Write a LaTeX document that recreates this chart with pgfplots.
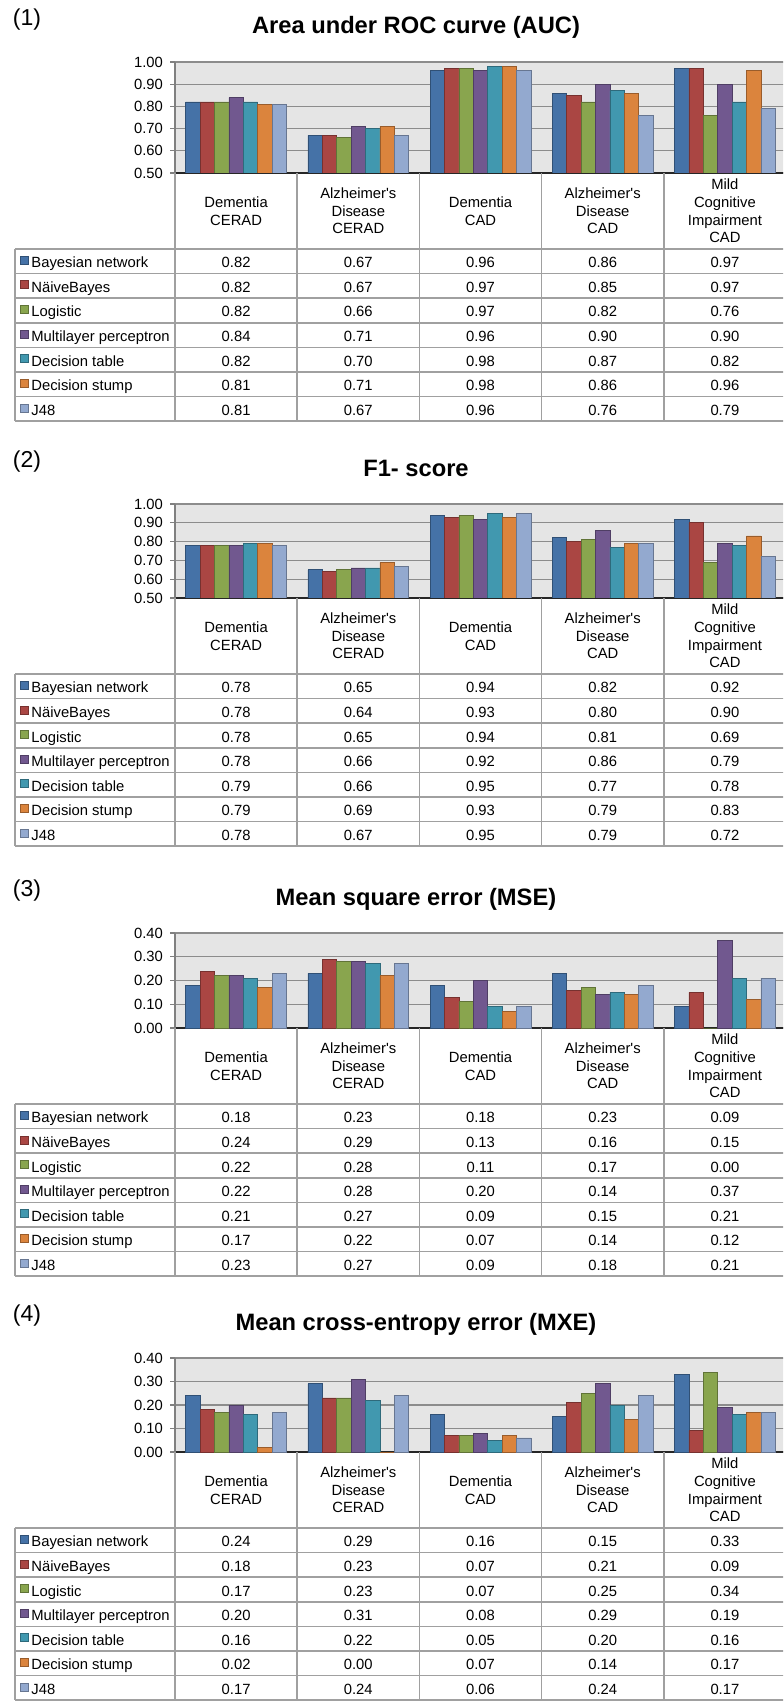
\documentclass[border=0pt]{standalone}
\usepackage{fontspec}
\setmainfont{Liberation Sans}
\usepackage{pgfplots}
\usepackage{pgfplotstable}
\pgfplotsset{compat=1.18}
\definecolor{c1}{HTML}{4572A7}
\definecolor{c2}{HTML}{AA4643}
\definecolor{c3}{HTML}{89A54E}
\definecolor{c4}{HTML}{71588F}
\definecolor{c5}{HTML}{4198AF}
\definecolor{c6}{HTML}{DB843D}
\definecolor{c7}{HTML}{93A9CF}
\definecolor{gridc}{HTML}{8C8C8C}
\definecolor{tabc}{HTML}{A0A0A0}
\pgfkeys{/pgf/number format/.cd,fixed,fixed zerofill,precision=2,assume math mode=true}
\newcommand{\tabfont}{\fontsize{7.4}{8.8}\selectfont}

\pgfplotstableread{
cat bn nb lo mlp dt ds j48
1 0.82 0.82 0.82 0.84 0.82 0.81 0.81
2 0.67 0.67 0.66 0.71 0.70 0.71 0.67
3 0.96 0.97 0.97 0.96 0.98 0.98 0.96
4 0.86 0.85 0.82 0.90 0.87 0.86 0.76
5 0.97 0.97 0.76 0.90 0.82 0.96 0.79
}\aucdata
\pgfplotstableread{
cat bn nb lo mlp dt ds j48
1 0.78 0.78 0.78 0.78 0.79 0.79 0.78
2 0.65 0.64 0.65 0.66 0.66 0.69 0.67
3 0.94 0.93 0.94 0.92 0.95 0.93 0.95
4 0.82 0.80 0.81 0.86 0.77 0.79 0.79
5 0.92 0.90 0.69 0.79 0.78 0.83 0.72
}\fonedata
\pgfplotstableread{
cat bn nb lo mlp dt ds j48
1 0.18 0.24 0.22 0.22 0.21 0.17 0.23
2 0.23 0.29 0.28 0.28 0.27 0.22 0.27
3 0.18 0.13 0.11 0.20 0.09 0.07 0.09
4 0.23 0.16 0.17 0.14 0.15 0.14 0.18
5 0.09 0.15 0.00 0.37 0.21 0.12 0.21
}\msedata
\pgfplotstableread{
cat bn nb lo mlp dt ds j48
1 0.24 0.18 0.17 0.20 0.16 0.02 0.17
2 0.29 0.23 0.23 0.31 0.22 0.00 0.24
3 0.16 0.07 0.07 0.08 0.05 0.07 0.06
4 0.15 0.21 0.25 0.29 0.20 0.14 0.24
5 0.33 0.09 0.34 0.19 0.16 0.17 0.17
}\mxedata

\pgfplotsset{
  barax/.style={
    scale only axis, width=305.5pt, anchor=north west,
    xmin=0.5, xmax=5.5, xtick=\empty,
    enlargelimits=false,
    ybar=0pt, bar width=7.2pt,
    axis background/.style={fill=black!10},
    axis lines*=left,
    axis line style={-},
    x axis line style={black!85, line width=0.8pt},
    y axis line style={black!50, line width=0.7pt},
    ymajorgrids, grid style={gridc, line width=0.6pt},
    tick align=outside, major tick length=2.5pt,
    ytick style={black!50, line width=0.6pt},
    yticklabel style={font=\tabfont, /pgf/number format/.cd, fixed, fixed zerofill, precision=2, assume math mode=true},
  },
}

\newcommand{\panel}[8]{%
  \pgfmathsetmacro\Hp{#2+#3}%
  \pgfmathsetmacro\Tp{\Hp+76}%
  \pgfmathsetmacro\ph{#3*0.5}%
  \begin{scope}[x=0.5pt,y=-0.5pt]
    \coordinate (P) at (175,#2);
    \node[font=\fontsize{11.5}{13}\selectfont] at (27,#2-42) {#7};
    \node[font=\fontsize{11.85}{14}\selectfont\bfseries, anchor=base] at (416,#2-28) {#6};
  \end{scope}
  \begin{axis}[barax, at={(P)}, height=\ph pt, ymin=#4, ymax=#5, ytick={#8}]
    \addplot[fill=c1, draw=c1!70!black] table[x=cat,y=bn]{#1};
    \addplot[fill=c2, draw=c2!70!black] table[x=cat,y=nb]{#1};
    \addplot[fill=c3, draw=c3!70!black] table[x=cat,y=lo]{#1};
    \addplot[fill=c4, draw=c4!70!black] table[x=cat,y=mlp]{#1};
    \addplot[fill=c5, draw=c5!70!black] table[x=cat,y=dt]{#1};
    \addplot[fill=c6, draw=c6!70!black] table[x=cat,y=ds]{#1};
    \addplot[fill=c7, draw=c7!70!black] table[x=cat,y=j48]{#1};
  \end{axis}
  \begin{scope}[x=0.5pt,y=-0.5pt]
    \foreach \i in {0,...,7} {\draw[tabc, line width=0.8pt] (15,{\Tp+\i*24.6}) -- (800,{\Tp+\i*24.6});}
    \draw[tabc, line width=0.8pt] (15,\Tp) -- (15,{\Tp+7*24.6});
    \foreach \k in {0,...,5} {\draw[tabc, line width=0.8pt] ({175+\k*122.2},\Hp) -- ({175+\k*122.2},{\Tp+7*24.6});}
    \foreach \k/\lab in {0/{Dementia\\CERAD},1/{Alzheimer\textquotesingle s\\Disease\\CERAD},2/{Dementia\\CAD},3/{Alzheimer\textquotesingle s\\Disease\\CAD},4/{Mild\\Cognitive\\Impairment\\CAD}}
      {\node[align=center, font=\tabfont] at ({175+(\k+0.5)*122.2},{\Hp+38}) {\lab};}
    \foreach \col/\name/\cc [count=\ri from 0] in {bn/Bayesian network/c1,nb/NäiveBayes/c2,lo/Logistic/c3,mlp/Multilayer perceptron/c4,dt/Decision table/c5,ds/Decision stump/c6,j48/J48/c7} {
      \pgfmathsetmacro\yc{\Tp+(\ri+0.5)*24.6}
      \filldraw[fill=\cc, draw=\cc!70!black, line width=0.4pt] (20,\yc-5) rectangle (28,\yc+3);
      \node[anchor=base west, inner sep=1pt, font=\tabfont] at (29,\yc+6.5) {\name};
      \foreach \c in {0,...,4} {
        \pgfplotstablegetelem{\c}{\col}\of#1
        \node[anchor=base, inner sep=0pt, font=\tabfont] at ({175+(\c+0.5)*122.2},\yc+6.5) {\pgfmathprintnumber{\pgfplotsretval}};
      }
    }
  \end{scope}
}

\begin{document}
\begin{tikzpicture}
  \useasboundingbox (0,0) rectangle (391.5pt,-850.5pt);
  \clip (0,0) rectangle (391.5pt,-850.5pt);
  \fill[white] (0,0) rectangle (391.5pt,-850.5pt);
  \panel{\aucdata}{62}{111}{0.5}{1.0}{Area under ROC curve (AUC)}{(1)}{0.5,0.6,0.7,0.8,0.9,1.0}
  \panel{\fonedata}{504}{94}{0.5}{1.0}{F1- score}{(2)}{0.5,0.6,0.7,0.8,0.9,1.0}
  \panel{\msedata}{933}{95}{0}{0.4}{Mean square error (MSE)}{(3)}{0,0.1,0.2,0.3,0.4}
  \panel{\mxedata}{1358}{94}{0}{0.4}{Mean cross-entropy error (MXE)}{(4)}{0,0.1,0.2,0.3,0.4}
\end{tikzpicture}
\end{document}
